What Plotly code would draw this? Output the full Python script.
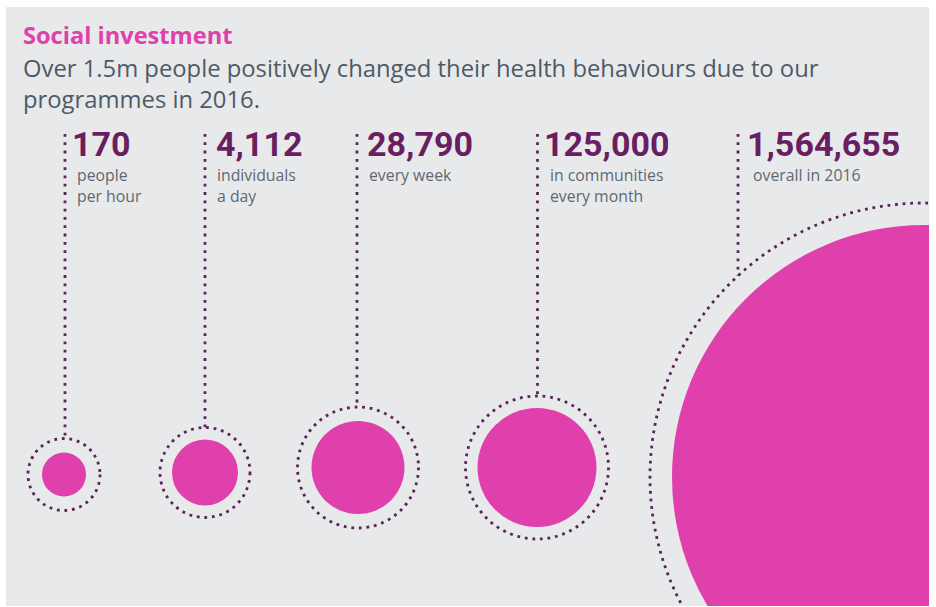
import plotly.graph_objects as go

# ---------------- data ----------------
title = "Social investment"
subtitle_lines = [
    "Over 1.5m people positively changed their health behaviours due to our",
    "programmes in 2016.",
]
values = [170, 4112, 28790, 125000, 1564655]
descriptions = [
    ["people", "per hour"],
    ["individuals", "a day"],
    ["every week"],
    ["in communities", "every month"],
    ["overall in 2016"],
]

# ---------------- layout geometry (pixels) ----------------
W, H = 936, 607
PANEL = (6, 7, 929, 606)  # x0, y0, x1, y1
bubble_cx = [64, 205, 358, 537, 924]
bubble_cy = [474.5, 472.5, 467.5, 467.5, 477]
bubble_r = [22, 33, 46.5, 59.5, 252]
ring_r = [36, 45, 60.5, 71.5, 274]
stem_x = [65, 205, 357, 537.5, 738]
stem_top = 134
label_x = [70, 214, 365, 542, 745]
desc_x = [76, 216, 368, 549, 752]

PINK = "#E040AC"
PURPLE = "#6A1E62"
DOT = "#5B2459"
GREY_TXT = "#4E5A66"
LABEL_TXT = "#5E6873"
PANEL_BG = "#E8E9EB"

fig = go.Figure()
# invisible trace to establish axes
fig.add_trace(go.Scatter(x=[PANEL[0], PANEL[2]], y=[PANEL[1], PANEL[3]],
                         mode="markers", marker=dict(opacity=0), hoverinfo="skip",
                         showlegend=False))

shapes = []
for cx, cy, r, rr, sx in zip(bubble_cx, bubble_cy, bubble_r, ring_r, stem_x):
    shapes.append(dict(type="circle", xref="x", yref="y", x0=cx - r, x1=cx + r,
                       y0=cy - r, y1=cy + r, fillcolor=PINK, line=dict(width=0),
                       layer="below"))
    shapes.append(dict(type="circle", xref="x", yref="y", x0=cx - rr, x1=cx + rr,
                       y0=cy - rr, y1=cy + rr, fillcolor="rgba(0,0,0,0)",
                       line=dict(color=DOT, width=2.8, dash="2.8px,4.8px"),
                       layer="below"))
    # stem reaches ring at the line's x
    dx = sx - cx
    ytop_ring = cy - (rr ** 2 - dx ** 2) ** 0.5
    shapes.append(dict(type="line", xref="x", yref="y", x0=sx, x1=sx,
                       y0=stem_top, y1=ytop_ring,
                       line=dict(color=DOT, width=2.8, dash="2.8px,5.5px"),
                       layer="below"))

annotations = []

def add_text(text, x, baseline, size, color, family, ascent, bold=False):
    t = f"<b>{text}</b>" if bold else text
    annotations.append(dict(text=t, x=x, y=baseline - ascent * size - 1,
                            xref="x", yref="y", xanchor="left", yanchor="top",
                            align="left", showarrow=False,
                            font=dict(size=size, color=color, family=family)))

OS = "Open Sans"
add_text(title, 21, 43, 23.6, PINK, OS, 1.069, bold=True)
add_text("<br>".join(subtitle_lines), 21, 76, 23.8, GREY_TXT, OS, 1.069)

for v, lx, dx_, desc in zip(values, label_x, desc_x, descriptions):
    add_text(f"{v:,}", lx, 155, 34, PURPLE, "Roboto", 0.928, bold=True)
    add_text("<br>".join(desc), dx_ - 1, 180, 15.8, LABEL_TXT, OS, 1.069)

fig.update_layout(
    width=W, height=H, margin=dict(l=0, r=0, t=0, b=0, pad=0),
    paper_bgcolor="white", plot_bgcolor=PANEL_BG,
    xaxis=dict(range=[PANEL[0], PANEL[2]], domain=[PANEL[0] / W, PANEL[2] / W],
               visible=False, fixedrange=True),
    yaxis=dict(range=[PANEL[3], PANEL[1]], domain=[1 - PANEL[3] / H, 1 - PANEL[1] / H],
               visible=False, fixedrange=True),
    shapes=shapes, annotations=annotations, showlegend=False,
)

fig.write_html("out.html")
